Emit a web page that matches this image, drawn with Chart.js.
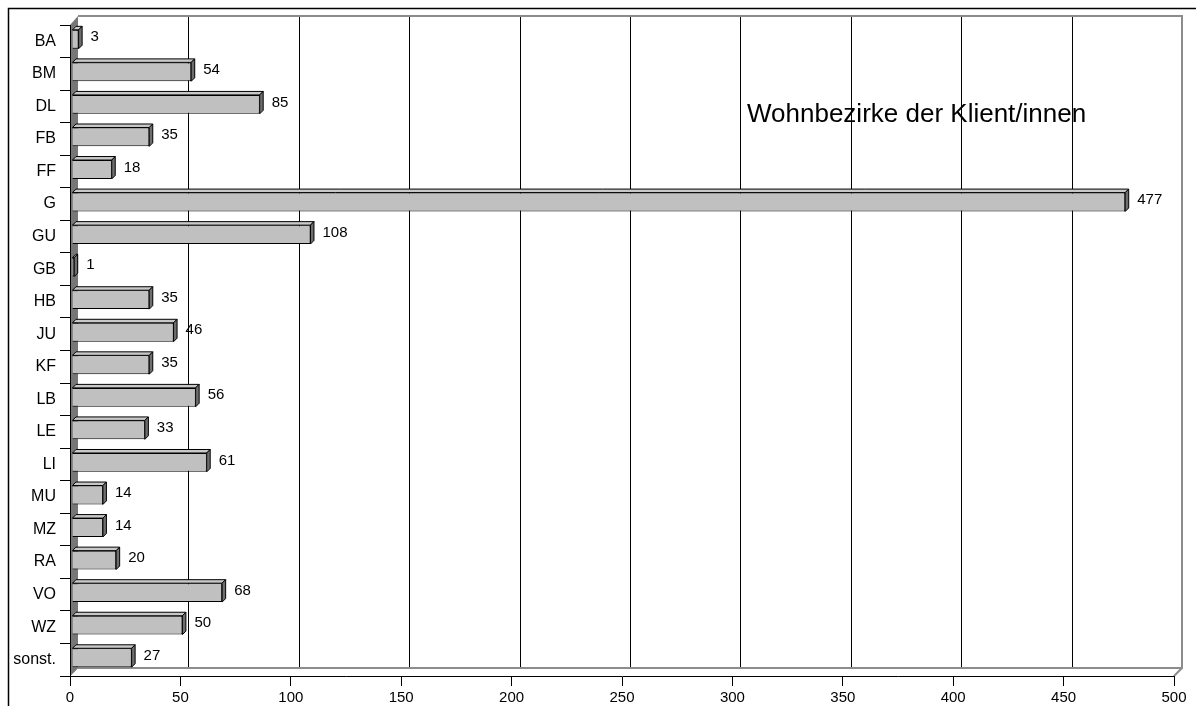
<!DOCTYPE html>
<html>
<head>
<meta charset="utf-8">
<title>Wohnbezirke der Klient/innen</title>
<script src="https://cdn.jsdelivr.net/npm/chart.js@4/dist/chart.umd.min.js"></script>
<style>
	body { margin: 0; background: #fff; }
	canvas { display: block; }
</style>
</head>
<body>
<canvas id="bezirke" width="1196" height="706"></canvas>
<script>
const categories = ['BA', 'BM', 'DL', 'FB', 'FF', 'G', 'GU', 'GB', 'HB', 'JU', 'KF', 'LB', 'LE', 'LI', 'MU', 'MZ', 'RA', 'VO', 'WZ', 'sonst.'];
const clients = [3, 54, 85, 35, 18, 477, 108, 1, 35, 46, 35, 56, 33, 61, 14, 14, 20, 68, 50, 27];
const xTicks = [0, 50, 100, 150, 200, 250, 300, 350, 400, 450, 500];
const chartTitle = 'Wohnbezirke der Klient/innen';

Chart.defaults.font.family = '"Liberation Sans", Arial, sans-serif';
Chart.defaults.color = '#000';

// depth of the back wall and of the bars (fake excel 3d)
const wall = 8;
const depth = 3.5;
const shift = { x: 2, y: -2 };

const excel3d = {
	id: 'excel3d',
	beforeDraw(chart) {
		const c = chart.ctx;
		const a = chart.chartArea;
		const xs = chart.scales.x;
		c.save();
		// outer frame
		c.strokeStyle = '#000';
		c.lineWidth = 1.5;
		c.beginPath();
		c.moveTo(8.5, 706);
		c.lineTo(8.5, 8.5);
		c.lineTo(1196, 8.5);
		c.stroke();

		// left wall
		c.fillStyle = '#777';
		c.beginPath();
		c.moveTo(a.left, a.top);
		c.lineTo(a.left + wall, a.top - wall - 1);
		c.lineTo(a.left + wall, a.bottom - wall);
		c.lineTo(a.left, a.bottom);
		c.closePath();
		c.fill();

		// grid lines on the back wall
		c.strokeStyle = '#000';
		c.lineWidth = 1;
		xTicks.forEach(v => {
			if (v === 0 || v === xTicks[xTicks.length - 1]) return;
			const px = Math.round(xs.getPixelForValue(v) + wall) + 0.5;
			c.beginPath();
			c.moveTo(px, a.top - wall - 1);
			c.lineTo(px, a.bottom - wall);
			c.stroke();
		});

		// back wall outline + floor
		const right = xs.getPixelForValue(xTicks[xTicks.length - 1]);
		c.strokeStyle = '#8c8c8c';
		c.lineWidth = 2;
		c.beginPath();
		c.moveTo(a.left + wall, a.top - wall - 1);
		c.lineTo(right + wall, a.top - wall - 1);
		c.lineTo(right + wall, a.bottom - wall);
		c.lineTo(right, a.bottom);
		c.moveTo(a.left + wall, a.bottom - wall);
		c.lineTo(right + wall, a.bottom - wall);
		c.stroke();
		c.lineWidth = 1;
		c.beginPath();
		c.moveTo(a.left + wall, a.bottom - wall);
		c.lineTo(a.left, a.bottom);
		c.stroke();
		c.restore();
	},
	beforeDatasetsDraw(chart) {
		chart.ctx.save();
		chart.ctx.translate(shift.x, shift.y);
	},
	afterDatasetsDraw(chart) {
		const c = chart.ctx;
		c.restore();
		c.save();
		const meta = chart.getDatasetMeta(0);
		meta.data.forEach((bar, i) => {
			const L = bar.base + shift.x;
			const R = bar.x + shift.x;
			const T = bar.y + shift.y - bar.height / 2;
			const B = bar.y + shift.y + bar.height / 2;
			c.lineWidth = 1;
			c.strokeStyle = '#000';
			// top face
			c.fillStyle = '#c8c8c8';
			c.beginPath();
			c.moveTo(L, T);
			c.lineTo(L + depth, T - depth);
			c.lineTo(R + depth, T - depth);
			c.lineTo(R, T);
			c.closePath();
			c.fill();
			c.stroke();
			// end cap
			c.fillStyle = '#6e6e6e';
			c.beginPath();
			c.moveTo(R, T);
			c.lineTo(R + depth, T - depth);
			c.lineTo(R + depth, B - depth);
			c.lineTo(R, B);
			c.closePath();
			c.fill();
			c.stroke();
			// value label
			c.fillStyle = '#000';
			c.font = '15px "Liberation Sans", Arial, sans-serif';
			c.textAlign = 'left';
			c.textBaseline = 'middle';
			c.fillText(String(clients[i]), bar.x + 14, bar.y - 4);
		});
		// title inside the plot
		c.font = '26px "Liberation Sans", Arial, sans-serif';
		c.textAlign = 'left';
		c.textBaseline = 'alphabetic';
		c.fillText(chartTitle, 747, 122);
		c.restore();
	}
};

const Chart_01 = new Chart(document.getElementById('bezirke'), {
	type: 'bar',
	data: {
		labels: categories,
		datasets: [
			{
				label: chartTitle,
				data: clients,
				backgroundColor: '#c0c0c0',
				borderColor: '#000',
				borderWidth: 1,
				barPercentage: 0.58,
				categoryPercentage: 1
			}
		]
	},
	options: {
		indexAxis: 'y',
		responsive: false,
		animation: false,
		devicePixelRatio: 1,
		layout: {
			padding: { top: 25, right: 22, left: 0, bottom: 0 }
		},
		plugins: {
			legend: { display: false },
			tooltip: { enabled: false }
		},
		scales: {
			x: {
				min: xTicks[0],
				max: xTicks[xTicks.length - 1],
				afterFit: s => { s.height = 30; },
				afterBuildTicks: s => { s.ticks = xTicks.map(v => ({ value: v })); },
				grid: { drawOnChartArea: false, tickLength: 10, color: '#000' },
				border: { color: '#000' },
				ticks: { font: { size: 15 }, padding: 3, maxRotation: 0, autoSkip: false }
			},
			y: {
				afterFit: s => { s.width = 70; },
				grid: { drawOnChartArea: false, tickLength: 10, color: '#000', offset: true },
				border: { color: '#000' },
				ticks: { font: { size: 16 }, padding: 4, autoSkip: false }
			}
		}
	},
	plugins: [excel3d]
});
</script>
</body>
</html>
